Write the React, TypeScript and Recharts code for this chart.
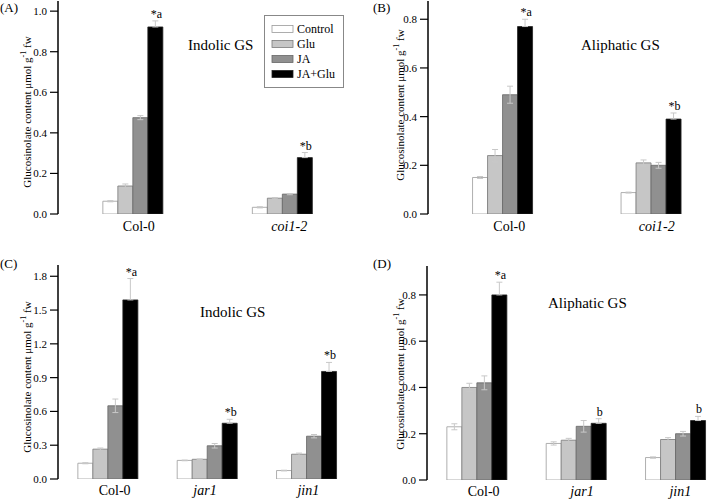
import { BarChart, Bar, XAxis, YAxis, ErrorBar, LabelList } from 'recharts';

const FONT = '"Liberation Serif", "Times New Roman", serif';

const seriesNames = ['Control', 'Glu', 'JA', 'JA+Glu'];
const seriesFills = ['#ffffff', '#c6c6c6', '#909090', '#000000'];
const seriesStrokes = ['#9a9a9a', '#7a7a7a', '#666666', '#222222'];

// (A) indolic GS, Col-0 vs coi1-2 — rows: Control, Glu, JA, JA+Glu
const catsA = ['Col-0', 'coi1-2'];
const valsA = [[0.063, 0.033], [0.138, 0.078], [0.475, 0.098], [0.922, 0.278]];
const errsA = [[0.003, 0.003], [0.01, 0.003], [0.01, 0.003], [0.03, 0.025]];
const marksA = ['*a', '*b'];
const yTicksA = [0, 0.2, 0.4, 0.6, 0.8, 1.0];
const yMinorA = [0.1, 0.3, 0.5, 0.7, 0.9];

// (B) aliphatic GS, Col-0 vs coi1-2
const catsB = ['Col-0', 'coi1-2'];
const valsB = [[0.15, 0.088], [0.24, 0.21], [0.49, 0.2], [0.77, 0.39]];
const errsB = [[0.004, 0.002], [0.025, 0.012], [0.035, 0.012], [0.03, 0.025]];
const marksB = ['*a', '*b'];
const yTicksB = [0, 0.2, 0.4, 0.6, 0.8];
const yMinorB = [0.1, 0.3, 0.5, 0.7];

// (C) indolic GS, Col-0 / jar1 / jin1
const catsC = ['Col-0', 'jar1', 'jin1'];
const valsC = [[0.14, 0.165, 0.075], [0.265, 0.175, 0.22], [0.65, 0.295, 0.38], [1.59, 0.495, 0.955]];
const errsC = [[0.005, 0.003, 0.003], [0.01, 0.003, 0.01], [0.06, 0.02, 0.015], [0.19, 0.035, 0.08]];
const marksC = ['*a', '*b', '*b'];
const yTicksC = [0, 0.3, 0.6, 0.9, 1.2, 1.5, 1.8];
const yMinorC = [0.15, 0.45, 0.75, 1.05, 1.35, 1.65];

// (D) aliphatic GS, Col-0 / jar1 / jin1
const catsD = ['Col-0', 'jar1', 'jin1'];
const valsD = [[0.23, 0.158, 0.097], [0.4, 0.172, 0.175], [0.42, 0.232, 0.2], [0.8, 0.245, 0.257]];
const errsD = [[0.013, 0.007, 0.003], [0.018, 0.008, 0.008], [0.03, 0.025, 0.01], [0.055, 0.02, 0.018]];
const marksD = ['*a', 'b', 'b'];
const yTicksD = [0, 0.2, 0.4, 0.6, 0.8];
const yMinorD = [0.1, 0.3, 0.5, 0.7, 0.9];

const xTicksTwo = [0, 0.25, 0.5, 0.75, 1, 1.25, 1.5, 1.75, 2];
const xTicksThree = [0, 1, 2, 3];

function Panel(p: any) {
  const { cats, vals, errs, marks } = p;
  const rows = cats.map((name: string, i: number) => {
    const r: any = { name, mark: marks[i] };
    vals.forEach((v: number[], s: number) => {
      r['v' + s] = v[i];
      // black bars: only the upper whisker shows
      r['e' + s] = s === 3 ? [0, errs[s][i]] : errs[s][i];
    });
    return r;
  });

  const catTick = (t: any) => {
    const i = t.index ?? cats.indexOf(t.payload.value);
    const name = t.payload.value;
    return (
      <text x={t.x + (p.catDx[i] || 0)} y={t.y + p.catBase} textAnchor="middle"
        fontFamily={FONT} fontSize={14} fill="#000" fontStyle={name === 'Col-0' ? 'normal' : 'italic'}>
        {name}
      </text>
    );
  };

  const renderMark = (lp: any) => {
    const { x, y, width, height, index, value } = lp;
    const v = vals[3][index];
    const ep = v ? (Number(height) * errs[3][index]) / v : 0;
    return (
      <text x={Number(x) + Number(width) / 2 + 1} y={Number(y) - ep - 3} textAnchor="middle"
        fontFamily={FONT} fontSize={12} fill="#000">
        {value}
      </text>
    );
  };

  const n = cats.length;
  return (
    <div style={{ position: 'absolute', left: p.left, top: p.top }}>
      <BarChart width={p.width} height={p.height} data={rows}
        margin={{ top: p.mt, right: p.mr, left: 0, bottom: 0 }}
        barCategoryGap={p.gap} barGap={0}>
        <XAxis xAxisId="ticks" type="number" domain={[0, n]} ticks={p.xTicks} allowDataOverflow
          tickFormatter={() => ''} tickSize={4} height={0}
          axisLine={{ stroke: '#000', strokeWidth: 1.5 }} tickLine={{ stroke: '#000', strokeWidth: 1.2 }} />
        <XAxis dataKey="name" height={p.xh} axisLine={false} tickLine={false}
          tickSize={0} tickMargin={0} tick={catTick} interval={0} />
        <XAxis xAxisId="top" orientation="top" type="number" domain={[0, n]} allowDataOverflow
          tick={false} tickLine={false} height={0} axisLine={{ stroke: '#000', strokeWidth: 1.5 }} />
        <YAxis yAxisId="minor" domain={p.domain} ticks={p.yMinor} allowDataOverflow width={0}
          tickFormatter={() => ''} tickSize={4} axisLine={false} tickLine={{ stroke: '#000', strokeWidth: 1.2 }} />
        <YAxis domain={p.domain} ticks={p.yTicks} allowDataOverflow width={p.yw}
          tickSize={8} tickMargin={3} interval={0}
          tickFormatter={(v: number) => v.toFixed(1)}
          tick={{ fontFamily: FONT, fontSize: 11, fill: '#000' }}
          axisLine={{ stroke: '#000', strokeWidth: 1.5 }} tickLine={{ stroke: '#000', strokeWidth: 1.2 }} />
        <YAxis yAxisId="right" orientation="right" domain={p.domain} allowDataOverflow width={0}
          tick={false} tickLine={false} axisLine={{ stroke: '#000', strokeWidth: 1.5 }} />
        {seriesNames.map((name, s) => (
          <Bar key={name} dataKey={'v' + s} name={name} fill={seriesFills[s]}
            stroke={seriesStrokes[s]} strokeWidth={0.8} isAnimationActive={false}>
            <ErrorBar dataKey={'e' + s} width={3} stroke="#c8c8c8" strokeWidth={1} direction="y" />
            {s === 3 && <LabelList dataKey="mark" content={renderMark} />}
          </Bar>
        ))}
      </BarChart>
    </div>
  );
}

function YTitle({ x, y }: { x: number; y: number }) {
  return (
    <text x={x} y={y} transform={`rotate(-90 ${x} ${y})`} textAnchor="middle" dominantBaseline="central"
      fontFamily={FONT} fontSize={11} fill="#000">
      Glucosinolate content μmol g<tspan dy={-4} fontSize={8}>-1</tspan><tspan dy={4}> fw</tspan>
    </text>
  );
}

export default function App() {
  const legendRows = [29, 44, 59, 74];
  return (
    <div style={{ position: 'absolute', left: 0, top: 0, width: 727, height: 499, background: '#fff', overflow: 'hidden' }}>
      <Panel cats={catsA} vals={valsA} errs={errsA} marks={marksA} left={0} top={0} width={363} height={250}
        yw={58} mt={1} mr={6} xh={36} domain={[0, 1.05]} yTicks={yTicksA} yMinor={yMinorA}
        xTicks={xTicksTwo} gap="30%" catBase={17} catDx={[6, 7]} />
      <Panel cats={catsB} vals={valsB} errs={errsB} marks={marksB} left={363} top={0} width={364} height={250}
        yw={65} mt={1} mr={2} xh={36} domain={[0, 0.875]} yTicks={yTicksB} yMinor={yMinorB}
        xTicks={xTicksTwo} gap="30%" catBase={17} catDx={[7, 6]} />
      <Panel cats={catsC} vals={valsC} errs={errsC} marks={marksC} left={0} top={250} width={363} height={249}
        yw={58} mt={15} mr={7} xh={20} domain={[0, 1.9]} yTicks={yTicksC} yMinor={yMinorC}
        xTicks={xTicksThree} gap="20%" catBase={16} catDx={[7, -2, 2]} />
      <Panel cats={catsD} vals={valsD} errs={errsD} marks={marksD} left={363} top={250} width={364} height={249}
        yw={64} mt={16} mr={2} xh={19} domain={[0, 0.925]} yTicks={yTicksD} yMinor={yMinorD}
        xTicks={xTicksThree} gap="20%" catBase={16} catDx={[7, 6, 5]} />
      <svg width={727} height={499} style={{ position: 'absolute', left: 0, top: 0, pointerEvents: 'none' }}>
        <g fontFamily={FONT} fill="#000">
          <text x={0} y={12} fontSize={13}>(A)</text>
          <text x={373} y={12} fontSize={13}>(B)</text>
          <text x={0} y={268} fontSize={13}>(C)</text>
          <text x={373} y={268} fontSize={13}>(D)</text>
          <text x={188} y={50} fontSize={15}>Indolic GS</text>
          <text x={581} y={50} fontSize={15}>Aliphatic GS</text>
          <text x={200} y={317} fontSize={15}>Indolic GS</text>
          <text x={548} y={308} fontSize={15}>Aliphatic GS</text>
        </g>
        <YTitle x={27} y={112} />
        <YTitle x={400} y={105} />
        <YTitle x={27} y={377} />
        <YTitle x={400} y={374} />
        <rect x={264.5} y={15.5} width={79} height={72} fill="#fff" stroke="#888" strokeWidth={1} />
        {seriesNames.map((name, s) => (
          <g key={name}>
            <rect x={272} y={legendRows[s] - 3.5} width={21} height={7} fill={seriesFills[s]}
              stroke={seriesStrokes[s]} strokeWidth={0.8} />
            <text x={297} y={legendRows[s] + 4} fontFamily={FONT} fontSize={12} fill="#000">{name}</text>
          </g>
        ))}
      </svg>
    </div>
  );
}
